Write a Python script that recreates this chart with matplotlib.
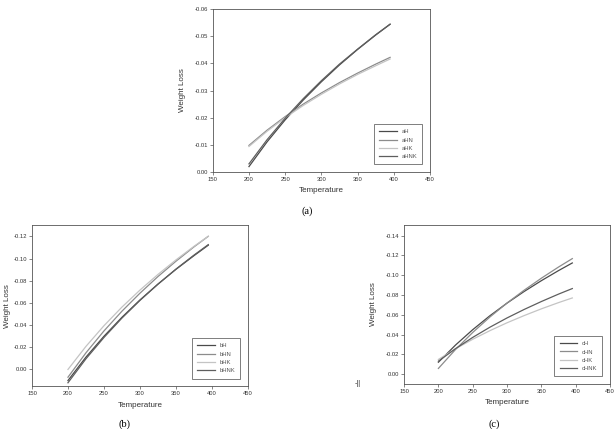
import numpy as np
import matplotlib
matplotlib.use("Agg")
import matplotlib.pyplot as plt

plt.rcParams['font.family'] = ['Liberation Sans', 'DejaVu Sans']

temps = [200, 225, 250, 275, 300, 325, 350, 375, 395]

# panel (a)
a_labels = ['aH', 'aHN', 'aHK', 'aHNK']
aH = [-0.0020, -0.0111, -0.0192, -0.0265, -0.0332, -0.0394, -0.0451, -0.0504, -0.0544]
aHN = [-0.0098, -0.0154, -0.0204, -0.0250, -0.0291, -0.0329, -0.0364, -0.0397, -0.0422]
aHK = [-0.0094, -0.0150, -0.0200, -0.0245, -0.0286, -0.0324, -0.0359, -0.0391, -0.0416]
aHNK = [-0.0030, -0.0119, -0.0198, -0.0270, -0.0336, -0.0397, -0.0452, -0.0505, -0.0544]

# panel (b)
b_labels = ['bH', 'bHN', 'bHK', 'bHNK']
bH = [0.0100, -0.0111, -0.0299, -0.0470, -0.0626, -0.0769, -0.0902, -0.1025, -0.1120]
bHN = [0.0070, -0.0150, -0.0347, -0.0525, -0.0687, -0.0837, -0.0975, -0.1104, -0.1200]
bHK = [0.0000, -0.0208, -0.0394, -0.0562, -0.0715, -0.0856, -0.0987, -0.1109, -0.1200]
bHNK = [0.0120, -0.0096, -0.0288, -0.0463, -0.0622, -0.0768, -0.0904, -0.1030, -0.1125]

# panel (c)
c_labels = ['cH', 'cHN', 'cHK', 'cHNK']
cH = [-0.0120, -0.0294, -0.0449, -0.0590, -0.0718, -0.0836, -0.0945, -0.1047, -0.1124]
cHN = [-0.0057, -0.0249, -0.0421, -0.0577, -0.0719, -0.0849, -0.0970, -0.1083, -0.1168]
cHK = [-0.0148, -0.0256, -0.0352, -0.0439, -0.0519, -0.0592, -0.0660, -0.0723, -0.0770]
cHNK = [-0.0130, -0.0257, -0.0371, -0.0474, -0.0568, -0.0654, -0.0734, -0.0809, -0.0865]

colors = ['#4a4a4a', '#8c8c8c', '#c4c4c4', '#5e5e5e']
edge = '#555555'


def panel(fig, rect, series, labels, ylim, yticks, ypad=6):
    ax = fig.add_axes(rect)
    for s, lab, c in zip(series, labels, colors):
        ax.plot(temps, s, color=c, lw=0.9, label=lab)
    ax.set_xlim(150, 450)
    ax.set_xticks([150, 200, 250, 300, 350, 400, 450])
    ax.set_ylim(*ylim)
    ax.set_yticks(yticks)
    ax.set_yticklabels(['%.2f' % v for v in yticks])
    ax.tick_params(labelsize=4.2, length=2, width=0.5, color=edge, pad=1.5,
                   labelcolor='#333333')
    for sp in ax.spines.values():
        sp.set_color(edge)
        sp.set_linewidth(0.6)
    ax.set_xlabel('Temperature', fontsize=5.8, color='#333333', labelpad=4)
    ax.set_ylabel('Weight Loss', fontsize=5.8, color='#333333', labelpad=ypad)
    leg = ax.legend(loc='lower right', fontsize=4.2, frameon=True, fancybox=False,
                    handlelength=3.0, borderpad=0.9, labelspacing=0.55,
                    borderaxespad=1.3, labelcolor='#555555')
    leg.get_frame().set_edgecolor('#444444')
    leg.get_frame().set_linewidth(0.6)
    return ax


fig = plt.figure(figsize=(6.15, 4.29), dpi=100)

panel(fig, [0.346, 0.599, 0.353, 0.380], [aH, aHN, aHK, aHNK], a_labels,
      (0.0, -0.06), [0.0, -0.01, -0.02, -0.03, -0.04, -0.05, -0.06])
panel(fig, [0.052, 0.100, 0.351, 0.375], [bH, bHN, bHK, bHNK], b_labels,
      (0.015, -0.13), [0.0, -0.02, -0.04, -0.06, -0.08, -0.10, -0.12], ypad=2)
panel(fig, [0.657, 0.105, 0.335, 0.371], [cH, cHN, cHK, cHNK], c_labels,
      (0.010, -0.151), [0.0, -0.02, -0.04, -0.06, -0.08, -0.10, -0.12, -0.14])

serif = ['Liberation Serif', 'DejaVu Serif']
fig.text(0.500, 0.508, '(a)', family=serif, fontsize=7.5, ha='center', va='center')
fig.text(0.202, 0.012, '(b)', family=serif, fontsize=7.5, ha='center', va='center')
fig.text(0.803, 0.012, '(c)', family=serif, fontsize=7.5, ha='center', va='center')
fig.text(0.582, 0.107, '-||', fontsize=5, ha='center', va='center', color='#333333')

fig.savefig('out.png', dpi=100)
